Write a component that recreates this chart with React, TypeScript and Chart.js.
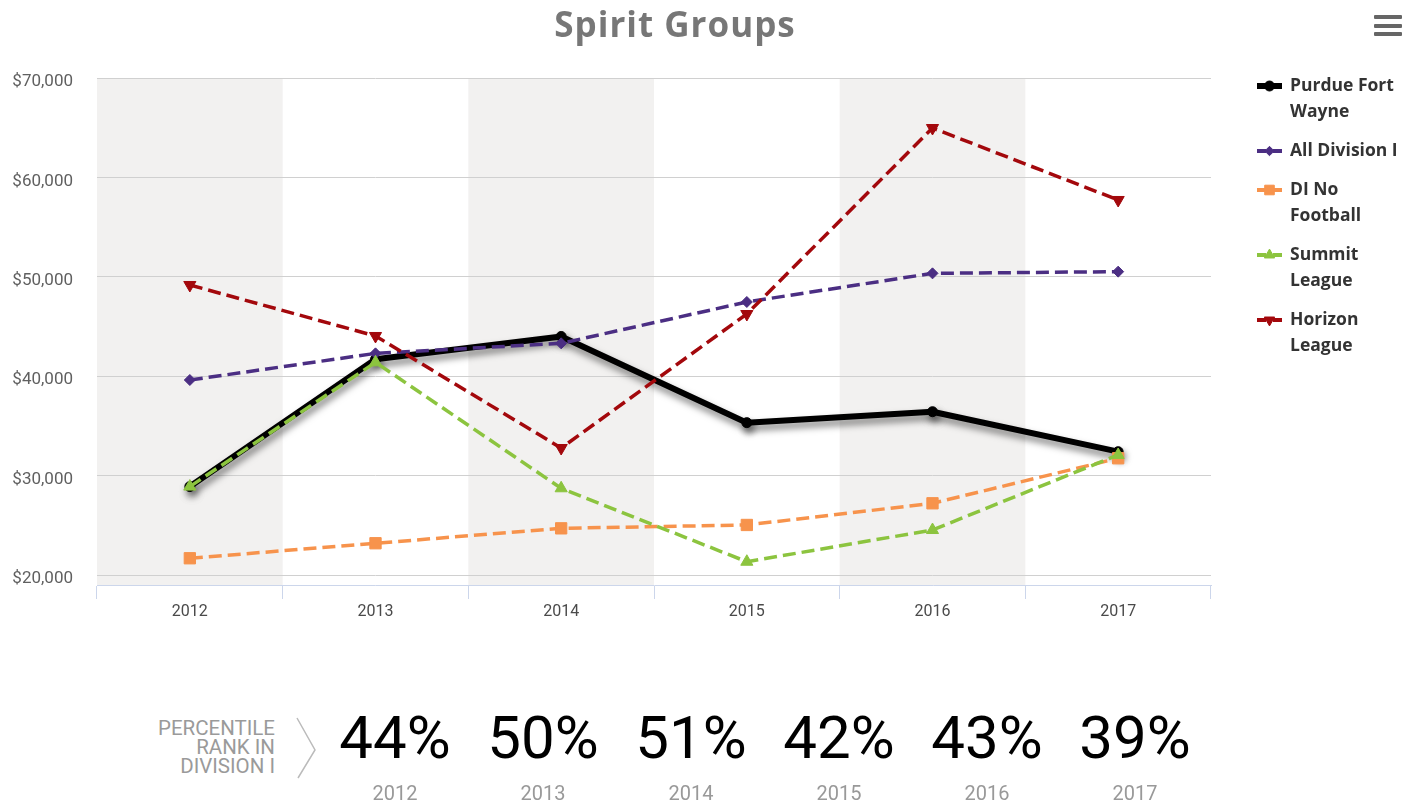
import React, { useEffect, useRef } from 'react';
import { Chart, registerables } from 'chart.js';
import { drawPoint } from 'chart.js/helpers';

Chart.register(...registerables);

const years = ['2012', '2013', '2014', '2015', '2016', '2017'];
const purdueFortWayne = [28900, 41700, 44000, 35330, 36430, 32410];
const allDivisionI = [39620, 42300, 43310, 47470, 50350, 50520];
const diNoFootball = [21690, 23200, 24700, 25040, 27220, 31750];
const summitLeague = [28900, 41400, 28730, 21340, 24530, 32080];
const horizonLeague = [49180, 44050, 32780, 46260, 64970, 57730];
const yTickValues = [20000, 30000, 40000, 50000, 60000, 70000];
const seriesNames = ['Purdue Fort\nWayne', 'All Division I', 'DI No\nFootball', 'Summit\nLeague', 'Horizon\nLeague'];
const percentileRanks = ['44%', '50%', '51%', '42%', '43%', '39%'];
const percentileLabel = ['PERCENTILE', 'RANK IN', 'DIVISION I'];
const titleText = 'Spirit Groups';

const seriesValues = [purdueFortWayne, allDivisionI, diNoFootball, summitLeague, horizonLeague];
const seriesStyles = [
  { color: '#000000', width: 6, dash: [] as number[], legendDash: [] as number[], pointStyle: 'circle', radius: 5, rotation: 0 },
  { color: '#4b2e83', width: 3.5, dash: [13, 6], legendDash: [9, 7], pointStyle: 'rectRot', radius: 5.5, rotation: 0 },
  { color: '#f7934c', width: 3.5, dash: [13, 6], legendDash: [9, 7], pointStyle: 'rect', radius: 8, rotation: 0 },
  { color: '#8cc43f', width: 3.5, dash: [13, 6], legendDash: [9, 7], pointStyle: 'triangle', radius: 7, rotation: 0 },
  { color: '#a3080c', width: 3.5, dash: [13, 6], legendDash: [9, 7], pointStyle: 'triangle', radius: 7, rotation: 180 },
];

const CANVAS_W = 1422;
const CANVAS_H = 640;

const bandsPlugin = {
  id: 'bands',
  beforeDraw(chart: any) {
    const { ctx, chartArea } = chart;
    const x = chart.scales.x;
    const half = (x.getPixelForValue(1) - x.getPixelForValue(0)) / 2;
    ctx.save();
    ctx.fillStyle = '#f2f1f0';
    years.forEach((_, i) => {
      if (i % 2 === 0) {
        const c = x.getPixelForValue(i);
        ctx.fillRect(c - half, chartArea.top, 2 * half, chartArea.bottom - chartArea.top);
      }
    });
    ctx.restore();
  },
};

const shadowPlugin = {
  id: 'lineShadow',
  beforeDatasetDraw(chart: any, args: any) {
    if (args.index === 0) {
      const ctx = chart.ctx;
      ctx.save();
      ctx.shadowColor = 'rgba(0,0,0,0.5)';
      ctx.shadowBlur = 7;
      ctx.shadowOffsetX = 2;
      ctx.shadowOffsetY = 5;
    }
  },
  afterDatasetDraw(chart: any, args: any) {
    if (args.index === 0) chart.ctx.restore();
  },
};

const legendPlugin = {
  id: 'sideLegend',
  afterDraw(chart: any) {
    const ctx = chart.ctx;
    let y = 86;
    const x0 = 1257;
    const x1 = 1282;
    const tx = 1290;
    const lineH = 26;
    seriesNames.forEach((name, i) => {
      const st = seriesStyles[i];
      ctx.save();
      ctx.strokeStyle = st.color;
      ctx.fillStyle = st.color;
      ctx.lineWidth = i === 0 ? 6 : 4;
      ctx.setLineDash(st.legendDash);
      ctx.beginPath();
      ctx.moveTo(x0, y);
      ctx.lineTo(x1, y);
      ctx.stroke();
      ctx.setLineDash([]);
      ctx.lineWidth = 1;
      drawPoint(ctx, { pointStyle: st.pointStyle as any, rotation: st.rotation, radius: i === 0 ? 5 : st.radius * 0.85, borderWidth: 1 } as any, (x0 + x1) / 2, y);
      ctx.restore();
      const lines = name.split('\n');
      ctx.save();
      ctx.font = '700 17.5px "Open Sans"';
      ctx.fillStyle = '#333333';
      ctx.textBaseline = 'middle';
      ctx.textAlign = 'left';
      lines.forEach((ln, k) => ctx.fillText(ln, tx, y + k * lineH));
      ctx.restore();
      y += lines.length * lineH + 13;
    });
  },
};

export default function App() {
  const canvasRef = useRef<HTMLCanvasElement | null>(null);

  useEffect(() => {
    if (!canvasRef.current) return;
    const chart = new Chart(canvasRef.current, {
      type: 'line',
      data: {
        labels: years,
        datasets: seriesValues.map((vals, i) => {
          const st = seriesStyles[i];
          return {
            label: seriesNames[i].replace('\n', ' '),
            data: vals,
            borderColor: st.color,
            backgroundColor: st.color,
            borderWidth: st.width,
            borderDash: st.dash,
            borderCapStyle: 'butt',
            borderJoinStyle: 'round',
            pointStyle: st.pointStyle as any,
            pointRotation: st.rotation,
            pointRadius: st.radius,
            pointBackgroundColor: st.color,
            pointBorderColor: st.color,
            pointBorderWidth: 1,
            fill: false,
            tension: 0,
            order: seriesValues.length - i,
            clip: false as any,
          };
        }),
      },
      options: {
        animation: false,
        responsive: false,
        maintainAspectRatio: false,
        devicePixelRatio: 1,
        layout: { padding: { left: 0, right: CANVAS_W - 1211, top: 78, bottom: 0 } },
        plugins: {
          legend: { display: false },
          title: { display: false },
          tooltip: { enabled: false },
        },
        scales: {
          x: {
            type: 'category',
            offset: true,
            grid: { offset: true, drawOnChartArea: false, drawTicks: true, tickLength: 14, color: '#ccd6eb', lineWidth: 1 },
            border: { display: true, color: '#ccd6eb', width: 1 },
            ticks: { color: '#4a4a4a', font: { family: 'Roboto', size: 16 }, padding: 3, maxRotation: 0, autoSkip: false },
            afterFit: (s: any) => { s.height = CANVAS_H - 585; },
          },
          y: {
            min: 19000,
            max: 70000,
            afterBuildTicks: (s: any) => { s.ticks = yTickValues.map((v) => ({ value: v })); },
            grid: { color: '#d0d0d0', drawTicks: false, lineWidth: 1 },
            border: { display: false },
            ticks: {
              color: '#606060',
              font: { family: 'Roboto', size: 17 },
              padding: 24,
              labelOffset: 4,
              callback: (v: any) => '$' + Number(v).toLocaleString('en-US'),
            },
            afterFit: (s: any) => { s.width = 97; },
          },
        },
      },
      plugins: [bandsPlugin, shadowPlugin, legendPlugin],
    } as any);
    return () => chart.destroy();
  }, []);

  return (
    <div style={{ position: 'fixed', left: 0, top: 0, width: 1422, height: 805, overflow: 'hidden', background: '#ffffff' }}>
      <canvas
        ref={canvasRef}
        width={CANVAS_W}
        height={CANVAS_H}
        style={{ position: 'absolute', left: 0, top: 0, width: CANVAS_W, height: CANVAS_H }}
      />
      <div
        style={{
          position: 'absolute', left: 0, top: 6, width: 1350, textAlign: 'center',
          font: '700 35px/35px "Open Sans"', letterSpacing: 1, color: '#777777',
        }}
      >
        {titleText}
      </div>
      {[15, 24, 32].map((t) => (
        <div key={t} style={{ position: 'absolute', left: 1374, top: t, width: 28, height: 3.5, background: '#666666', borderRadius: 1 }} />
      ))}
      <div
        style={{
          position: 'absolute', left: 0, top: 719, width: 275, textAlign: 'right',
          font: '400 20.5px/19px Roboto', color: '#9a9a9a',
        }}
      >
        {percentileLabel.map((l) => (<div key={l}>{l}</div>))}
      </div>
      <svg style={{ position: 'absolute', left: 0, top: 0 }} width={340} height={805}>
        <polyline points="297,718 315,750 298,778" fill="none" stroke="#bbbbbb" strokeWidth={1.5} />
      </svg>
      {percentileRanks.map((p, i) => (
        <div key={i} style={{ position: 'absolute', left: 321 + i * 148, top: 0, width: 148 }}>
          <div style={{ position: 'absolute', left: 0, top: 707.5, width: 148, textAlign: 'center', font: '400 60px/60px Roboto', color: '#000000' }}>{p}</div>
          <div style={{ position: 'absolute', left: 0, top: 783, width: 148, textAlign: 'center', font: '400 20px/20px Roboto', color: '#999999' }}>{years[i]}</div>
        </div>
      ))}
    </div>
  );
}
